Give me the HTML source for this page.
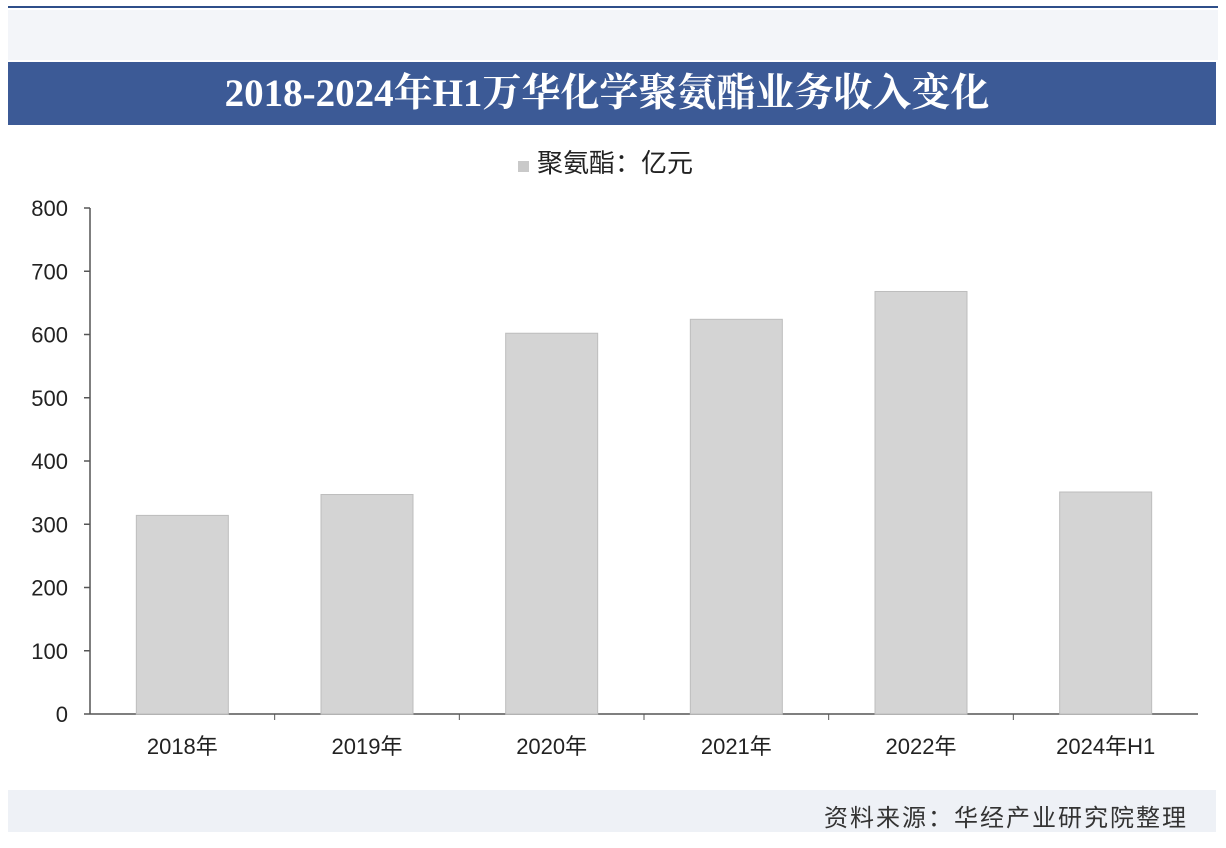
<!DOCTYPE html>
<html><head><meta charset="utf-8"><style>
body{margin:0;width:1226px;height:848px;background:#fff;overflow:hidden;font-family:"Liberation Sans","Noto Sans CJK SC",sans-serif;position:relative}
.abs{position:absolute}
</style></head><body>
<div class="abs" style="left:8px;top:6px;width:1210px;height:2px;background:#2f4f8a"></div>
<div class="abs" style="left:8px;top:10px;width:1210px;height:50px;background:#f3f5f9"></div>
<div class="abs" style="left:8px;top:62px;width:1208px;height:63px;background:#3c5a96;color:#fff;font:bold 39px 'Liberation Serif','Noto Serif CJK SC',serif;text-align:center;line-height:63px;text-indent:-10px">2018-2024年H1万华化学聚氨酯业务收入变化</div>
<div class="abs" style="left:518px;top:146px;font-size:26px;color:#222;line-height:34px"><span style="display:inline-block;width:11px;height:11px;background:#c9c9c9;margin-right:8px"></span>聚氨酯：亿元</div>
<div class="abs" style="left:8px;top:790px;width:1208px;height:42px;background:#eef1f6"></div>
<div class="abs" style="right:38px;top:798px;font-size:24px;color:#333;letter-spacing:2px">资料来源：华经产业研究院整理</div>
<svg class="abs" style="left:0;top:0" width="1226" height="848" id="chart"></svg>
<script>
const categories=["2018年","2019年","2020年","2021年","2022年","2024年H1"];
const values=[314,347,602,624,668,351];
const ticks=[0,100,200,300,400,500,600,700,800];
const ns="http://www.w3.org/2000/svg";
const svg=document.getElementById("chart");
const x0=90,x1=1198,y0=714,yTop=208;
const y=v=>y0-(v/800)*(y0-yTop);
const bw=(x1-x0)/categories.length;
function mk(t,a){const e=document.createElementNS(ns,t);for(const k in a)e.setAttribute(k,a[k]);svg.appendChild(e);return e;}
let ax=mk("line",{x1:x0,y1:y0,x2:x1,y2:y0,stroke:"#555","stroke-width":1.5});


let ay=mk("line",{x1:x0,y1:yTop,x2:x0,y2:y0,stroke:"#555","stroke-width":1.5});


ticks.forEach(t=>{
 const tk=mk("line",{x1:x0-6,y1:y(t),x2:x0,y2:y(t),stroke:"#555","stroke-width":1.5});
 
 
 const tx=mk("text",{x:x0-22,y:y(t)+8,"text-anchor":"end","font-size":22,fill:"#222","font-family":"Liberation Sans, sans-serif"});
 tx.textContent=t;
 
 
});
categories.forEach((c,i)=>{
 const cx=x0+bw*(i+0.5);
 const r=mk("rect",{x:cx-46,y:y(values[i]),width:92,height:y0-y(values[i]),fill:"#d4d4d4",stroke:"#bdbdbd"});
 
 
 if(i>0){const s=mk("line",{x1:x0+bw*i,y1:y0,x2:x0+bw*i,y2:y0+6,stroke:"#555"});
 
 }
 const l=mk("text",{x:cx,y:754,"text-anchor":"middle","font-size":22,fill:"#222","font-family":"Liberation Sans, Noto Sans CJK SC, sans-serif"});
 l.textContent=c;
 
 
});
</script>
</body></html>
